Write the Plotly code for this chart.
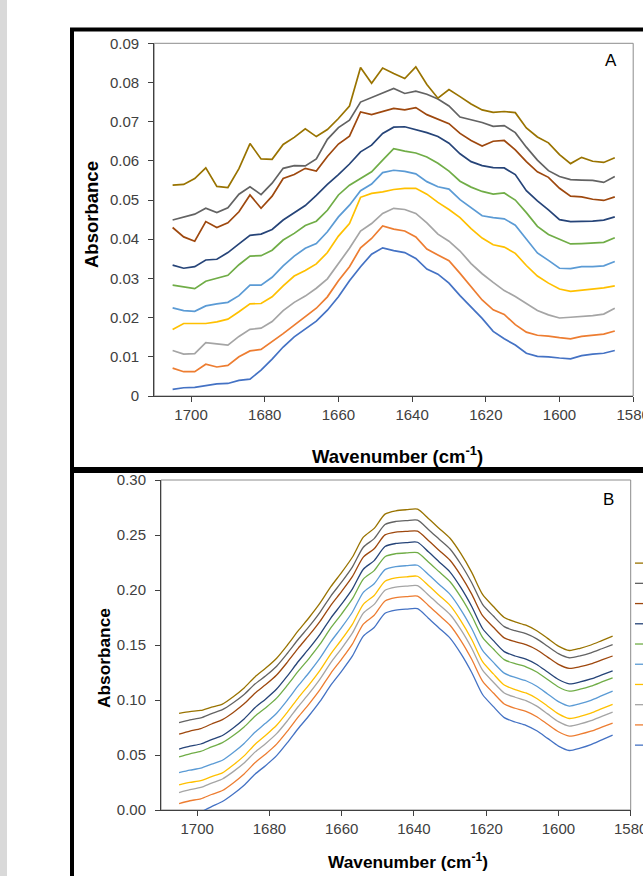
import plotly.graph_objects as go

# Wavenumber grid shared by every spectrum (cm-1), high to low
wavenumber = [1705, 1702, 1699, 1696, 1693, 1690, 1687, 1684, 1681, 1678,
              1675, 1672, 1669, 1666, 1663, 1660, 1657, 1654, 1651, 1648,
              1645, 1642, 1639, 1636, 1633, 1630, 1627, 1624, 1621, 1618,
              1615, 1612, 1609, 1606, 1603, 1600, 1597, 1594, 1591, 1588, 1585]

# ---- Panel A spectra (absorbance) ----
a_s1 = [0.0017, 0.0021, 0.0022, 0.0027, 0.0031, 0.0032, 0.0040, 0.0043, 0.0066, 0.0094,
        0.0125, 0.0151, 0.0172, 0.0191, 0.0219, 0.0253, 0.0294, 0.0330, 0.0362, 0.0378,
        0.0371, 0.0366, 0.0351, 0.0324, 0.0311, 0.0288, 0.0256, 0.0227, 0.0198, 0.0165,
        0.0146, 0.0130, 0.0109, 0.0101, 0.0100, 0.0097, 0.0095, 0.0103, 0.0107, 0.0109, 0.0116]
a_s2 = [0.0071, 0.0062, 0.0062, 0.0081, 0.0074, 0.0078, 0.0100, 0.0115, 0.0119, 0.0138,
        0.0159, 0.0181, 0.0202, 0.0224, 0.0253, 0.0294, 0.0330, 0.0378, 0.0402, 0.0434,
        0.0426, 0.0421, 0.0406, 0.0375, 0.0360, 0.0345, 0.0313, 0.0278, 0.0245, 0.0220,
        0.0208, 0.0182, 0.0163, 0.0155, 0.0153, 0.0149, 0.0146, 0.0152, 0.0155, 0.0158, 0.0166]
a_s3 = [0.0116, 0.0107, 0.0108, 0.0136, 0.0133, 0.0130, 0.0152, 0.0170, 0.0173, 0.0190,
        0.0218, 0.0239, 0.0255, 0.0275, 0.0299, 0.0338, 0.0377, 0.0421, 0.0440, 0.0466,
        0.0479, 0.0476, 0.0466, 0.0442, 0.0413, 0.0395, 0.0370, 0.0338, 0.0312, 0.0290,
        0.0269, 0.0254, 0.0237, 0.0218, 0.0207, 0.0199, 0.0201, 0.0203, 0.0205, 0.0209, 0.0224]
a_s4 = [0.0170, 0.0185, 0.0185, 0.0185, 0.0189, 0.0196, 0.0215, 0.0235, 0.0236, 0.0253,
        0.0281, 0.0306, 0.0320, 0.0337, 0.0366, 0.0408, 0.0440, 0.0507, 0.0517, 0.0521,
        0.0527, 0.0530, 0.0530, 0.0515, 0.0494, 0.0476, 0.0455, 0.0427, 0.0403, 0.0386,
        0.0380, 0.0364, 0.0333, 0.0306, 0.0288, 0.0273, 0.0267, 0.0270, 0.0273, 0.0276, 0.0281]
a_s5 = [0.0225, 0.0218, 0.0216, 0.0230, 0.0235, 0.0239, 0.0256, 0.0283, 0.0283, 0.0303,
        0.0332, 0.0357, 0.0377, 0.0389, 0.0419, 0.0457, 0.0487, 0.0524, 0.0541, 0.0570,
        0.0576, 0.0573, 0.0567, 0.0547, 0.0534, 0.0528, 0.0501, 0.0480, 0.0460, 0.0455,
        0.0452, 0.0436, 0.0400, 0.0365, 0.0346, 0.0326, 0.0325, 0.0330, 0.0330, 0.0332, 0.0343]
a_s6 = [0.0283, 0.0279, 0.0274, 0.0293, 0.0300, 0.0308, 0.0335, 0.0357, 0.0358, 0.0372,
        0.0398, 0.0415, 0.0435, 0.0446, 0.0474, 0.0513, 0.0538, 0.0555, 0.0572, 0.0602,
        0.0631, 0.0625, 0.0620, 0.0610, 0.0594, 0.0574, 0.0548, 0.0533, 0.0522, 0.0515,
        0.0518, 0.0500, 0.0468, 0.0433, 0.0412, 0.0400, 0.0388, 0.0389, 0.0390, 0.0392, 0.0404]
a_s7 = [0.0334, 0.0326, 0.0330, 0.0347, 0.0349, 0.0366, 0.0388, 0.0410, 0.0413, 0.0425,
        0.0449, 0.0468, 0.0486, 0.0512, 0.0540, 0.0565, 0.0592, 0.0623, 0.0640, 0.0670,
        0.0686, 0.0687, 0.0680, 0.0672, 0.0662, 0.0645, 0.0618, 0.0598, 0.0588, 0.0583,
        0.0582, 0.0565, 0.0524, 0.0498, 0.0475, 0.0450, 0.0445, 0.0445, 0.0446, 0.0449, 0.0457]
a_s8 = [0.0430, 0.0406, 0.0395, 0.0445, 0.0430, 0.0442, 0.0470, 0.0513, 0.0479, 0.0510,
        0.0555, 0.0565, 0.0581, 0.0574, 0.0611, 0.0643, 0.0663, 0.0725, 0.0718, 0.0726,
        0.0734, 0.0730, 0.0736, 0.0718, 0.0707, 0.0695, 0.0670, 0.0652, 0.0638, 0.0650,
        0.0652, 0.0628, 0.0598, 0.0572, 0.0558, 0.0530, 0.0510, 0.0508, 0.0502, 0.0499, 0.0508]
a_s9 = [0.0449, 0.0457, 0.0464, 0.0479, 0.0468, 0.0480, 0.0515, 0.0534, 0.0514, 0.0543,
        0.0581, 0.0588, 0.0587, 0.0605, 0.0655, 0.0685, 0.0704, 0.0750, 0.0762, 0.0772,
        0.0785, 0.0772, 0.0778, 0.0770, 0.0758, 0.0740, 0.0712, 0.0705, 0.0698, 0.0688,
        0.0690, 0.0672, 0.0635, 0.0602, 0.0575, 0.0560, 0.0552, 0.0551, 0.0550, 0.0545, 0.0560]
a_s10 = [0.0538, 0.0540, 0.0555, 0.0582, 0.0535, 0.0532, 0.0580, 0.0644, 0.0605, 0.0604,
         0.0642, 0.0660, 0.0682, 0.0662, 0.0680, 0.0708, 0.0740, 0.0838, 0.0798, 0.0837,
         0.0823, 0.0810, 0.0840, 0.0795, 0.0760, 0.0782, 0.0764, 0.0745, 0.0730, 0.0724,
         0.0726, 0.0723, 0.0684, 0.0661, 0.0646, 0.0616, 0.0593, 0.0609, 0.0599, 0.0596, 0.0608]

# ---- Panel B spectra (absorbance) ----
b_s1 = [-0.0081, -0.0046, -0.0018, 0.0031, 0.0077, 0.0145, 0.0225, 0.0325, 0.0405, 0.0494,
        0.0613, 0.0741, 0.0859, 0.0987, 0.1135, 0.1263, 0.1401, 0.1580, 0.1659, 0.1788,
        0.1817, 0.1826, 0.1830, 0.1744, 0.1653, 0.1562, 0.1421, 0.1250, 0.1050, 0.0940,
        0.0840, 0.0800, 0.0770, 0.0720, 0.0651, 0.0581, 0.0541, 0.0563, 0.0595, 0.0638, 0.0680]
b_s2 = [0.0059, 0.0084, 0.0102, 0.0141, 0.0177, 0.0246, 0.0327, 0.0429, 0.0510, 0.0599,
        0.0717, 0.0846, 0.0965, 0.1094, 0.1243, 0.1372, 0.1511, 0.1690, 0.1770, 0.1900,
        0.1930, 0.1940, 0.1945, 0.1860, 0.1770, 0.1680, 0.1540, 0.1370, 0.1172, 0.1063,
        0.0964, 0.0925, 0.0896, 0.0848, 0.0779, 0.0711, 0.0672, 0.0689, 0.0716, 0.0753, 0.0790]
b_s3 = [0.0159, 0.0185, 0.0205, 0.0245, 0.0282, 0.0349, 0.0427, 0.0526, 0.0605, 0.0694,
        0.0812, 0.0941, 0.1060, 0.1190, 0.1340, 0.1470, 0.1610, 0.1790, 0.1869, 0.1998,
        0.2027, 0.2036, 0.2040, 0.1955, 0.1866, 0.1777, 0.1639, 0.1470, 0.1271, 0.1162,
        0.1064, 0.1025, 0.0995, 0.0944, 0.0874, 0.0803, 0.0763, 0.0782, 0.0812, 0.0851, 0.0890]
b_s4 = [0.0229, 0.0251, 0.0267, 0.0304, 0.0337, 0.0409, 0.0492, 0.0596, 0.0680, 0.0770,
        0.0890, 0.1020, 0.1140, 0.1270, 0.1420, 0.1550, 0.1690, 0.1870, 0.1950, 0.2080,
        0.2110, 0.2120, 0.2125, 0.2040, 0.1950, 0.1860, 0.1720, 0.1550, 0.1348, 0.1237,
        0.1136, 0.1095, 0.1064, 0.1014, 0.0944, 0.0874, 0.0832, 0.0851, 0.0881, 0.0921, 0.0960]
b_s5 = [0.0339, 0.0362, 0.0380, 0.0417, 0.0452, 0.0522, 0.0605, 0.0707, 0.0790, 0.0880,
        0.1000, 0.1130, 0.1250, 0.1380, 0.1530, 0.1660, 0.1800, 0.1979, 0.2057, 0.2185,
        0.2213, 0.2221, 0.2225, 0.2140, 0.2050, 0.1960, 0.1820, 0.1650, 0.1451, 0.1342,
        0.1244, 0.1205, 0.1175, 0.1125, 0.1055, 0.0985, 0.0945, 0.0966, 0.0997, 0.1039, 0.1080]
b_s6 = [0.0484, 0.0511, 0.0532, 0.0574, 0.0612, 0.0677, 0.0755, 0.0852, 0.0930, 0.1017,
        0.1135, 0.1262, 0.1379, 0.1507, 0.1655, 0.1783, 0.1921, 0.2099, 0.2176, 0.2303,
        0.2330, 0.2337, 0.2340, 0.2255, 0.2165, 0.2075, 0.1935, 0.1766, 0.1570, 0.1463,
        0.1367, 0.1330, 0.1302, 0.1254, 0.1186, 0.1118, 0.1080, 0.1098, 0.1126, 0.1164, 0.1202]
b_s7 = [0.0554, 0.0580, 0.0600, 0.0640, 0.0677, 0.0746, 0.0827, 0.0929, 0.1010, 0.1100,
        0.1220, 0.1350, 0.1469, 0.1597, 0.1745, 0.1873, 0.2011, 0.2189, 0.2267, 0.2395,
        0.2423, 0.2431, 0.2434, 0.2347, 0.2255, 0.2163, 0.2021, 0.1850, 0.1650, 0.1540,
        0.1440, 0.1400, 0.1371, 0.1323, 0.1254, 0.1186, 0.1147, 0.1164, 0.1191, 0.1228, 0.1265]
b_s8 = [0.0689, 0.0717, 0.0740, 0.0782, 0.0822, 0.0887, 0.0965, 0.1062, 0.1140, 0.1227,
        0.1345, 0.1472, 0.1589, 0.1715, 0.1861, 0.1987, 0.2123, 0.2299, 0.2375, 0.2501,
        0.2527, 0.2533, 0.2535, 0.2450, 0.2360, 0.2270, 0.2130, 0.1962, 0.1766, 0.1661,
        0.1565, 0.1530, 0.1503, 0.1457, 0.1390, 0.1324, 0.1287, 0.1303, 0.1328, 0.1364, 0.1400]
b_s9 = [0.0794, 0.0819, 0.0837, 0.0876, 0.0912, 0.0975, 0.1050, 0.1145, 0.1220, 0.1307,
        0.1425, 0.1552, 0.1669, 0.1797, 0.1945, 0.2073, 0.2211, 0.2389, 0.2467, 0.2595,
        0.2623, 0.2631, 0.2635, 0.2551, 0.2462, 0.2373, 0.2234, 0.2066, 0.1870, 0.1763,
        0.1667, 0.1630, 0.1603, 0.1556, 0.1488, 0.1421, 0.1384, 0.1401, 0.1429, 0.1466, 0.1504]
b_s10 = [0.0879, 0.0895, 0.0905, 0.0935, 0.0962, 0.1030, 0.1110, 0.1210, 0.1290, 0.1380,
         0.1500, 0.1630, 0.1750, 0.1880, 0.2030, 0.2160, 0.2300, 0.2480, 0.2560, 0.2690,
         0.2720, 0.2730, 0.2735, 0.2650, 0.2560, 0.2470, 0.2330, 0.2160, 0.1960, 0.1850,
         0.1750, 0.1710, 0.1680, 0.1630, 0.1560, 0.1490, 0.1450, 0.1470, 0.1500, 0.1540, 0.1580]

series_names = ["1", "2", "3", "4", "5", "6", "7", "8", "9", "10"]
series_colors = ["#4472C4", "#ED7D31", "#A5A5A5", "#FFC000", "#5B9BD5",
                 "#70AD47", "#264478", "#9E480E", "#636363", "#997300"]

panel_a = [a_s1, a_s2, a_s3, a_s4, a_s5, a_s6, a_s7, a_s8, a_s9, a_s10]
panel_b = [b_s1, b_s2, b_s3, b_s4, b_s5, b_s6, b_s7, b_s8, b_s9, b_s10]

W, H = 643, 876
FONT = "Liberation Sans, Arial, sans-serif"


def fx(px):
    return px / W


def fy(py):
    return 1 - py / H


fig = go.Figure()

for name, color, ys in zip(series_names, series_colors, panel_a):
    fig.add_trace(go.Scatter(x=wavenumber, y=ys, mode="lines", name=name,
                             line=dict(color=color, width=1.7),
                             xaxis="x", yaxis="y", showlegend=False,
                             hoverinfo="skip"))

for name, color, ys in zip(series_names, series_colors, panel_b):
    fig.add_trace(go.Scatter(x=wavenumber, y=ys, mode="lines", name=name,
                             line=dict(color=color, width=1.3, shape="spline",
                                       smoothing=0.7),
                             xaxis="x2", yaxis="y2", showlegend=True,
                             hoverinfo="skip"))

axis_style = dict(showline=True, linecolor="#404040", linewidth=1,
                  ticks="outside", ticklen=5, tickcolor="#404040", tickwidth=1,
                  tickfont=dict(family=FONT, size=15, color="#404040"),
                  showgrid=False, zeroline=False, ticklabeloverflow="allow")

xticks = [1700, 1680, 1660, 1640, 1620, 1600, 1580]

fig.update_layout(
    width=W, height=H,
    margin=dict(l=0, r=0, t=0, b=0, autoexpand=False),
    paper_bgcolor="white", plot_bgcolor="white",
    hovermode=False,
    xaxis=dict(domain=[fx(154.2), fx(633.2)], range=[1710, 1580],
               tickvals=xticks, anchor="y", **axis_style),
    yaxis=dict(domain=[fy(396), fy(43.3)], range=[0, 0.09], dtick=0.01,
               tick0=0, anchor="x", ticklabelstandoff=6, **axis_style),
    xaxis2=dict(domain=[fx(161), fx(630.7)], range=[1710, 1580],
                tickvals=xticks, anchor="y2", **axis_style),
    yaxis2=dict(domain=[fy(810), fy(480)], range=[0, 0.30], dtick=0.05,
                tick0=0, tickformat=".2f", anchor="x2", ticklabelstandoff=6,
                **axis_style),
    legend=dict(x=fx(630), y=fy(548), xanchor="left", yanchor="top",
                traceorder="reversed", bgcolor="rgba(0,0,0,0)",
                font=dict(family=FONT, size=13.25, color="#404040"),
                itemwidth=30),
)

shapes = [
    # light strip along the left edge
    dict(type="rect", xref="paper", yref="paper", x0=0, x1=fx(7), y0=0, y1=1,
         fillcolor="#d9d9d9", line=dict(width=0), layer="below"),
    # plot-area boxes
    dict(type="rect", xref="x domain", yref="y domain", x0=0, x1=1, y0=0, y1=1,
         line=dict(color="#8c8c8c", width=1), layer="below"),
    dict(type="rect", xref="x2 domain", yref="y2 domain", x0=0, x1=1, y0=0, y1=1,
         line=dict(color="#8c8c8c", width=1), layer="below"),
    # heavy panel frames
    dict(type="line", xref="paper", yref="paper", x0=fx(70), x1=fx(660),
         y0=fy(29.5), y1=fy(29.5), line=dict(color="black", width=4)),
    dict(type="line", xref="paper", yref="paper", x0=fx(72), x1=fx(72),
         y0=fy(28), y1=fy(880), line=dict(color="black", width=4)),
    dict(type="line", xref="paper", yref="paper", x0=fx(70), x1=fx(660),
         y0=fy(470), y1=fy(470), line=dict(color="black", width=6)),
]

annotations = [
    dict(text="<b>Absorbance</b>", x=fx(91), y=fy(215), textangle=-90,
         font=dict(family=FONT, size=18.5, color="black")),
    dict(text="<b>Wavenumber (cm<sup>-1</sup>)</b>", x=fx(397), y=fy(455),
         font=dict(family=FONT, size=18.5, color="black")),
    dict(text="A", x=fx(611), y=fy(61), font=dict(family=FONT, size=17, color="black")),
    dict(text="<b>Absorbance</b>", x=fx(104), y=fy(658), textangle=-90,
         font=dict(family=FONT, size=17.3, color="black")),
    dict(text="<b>Wavenumber (cm<sup>-1</sup>)</b>", x=fx(408), y=fy(861),
         font=dict(family=FONT, size=17.3, color="black")),
    dict(text="B", x=fx(608), y=fy(499), font=dict(family=FONT, size=17, color="black")),
]
for a in annotations:
    a.update(xref="paper", yref="paper", xanchor="center", yanchor="middle",
             showarrow=False)

fig.update_layout(shapes=shapes, annotations=annotations)

fig.write_html("out.html")
